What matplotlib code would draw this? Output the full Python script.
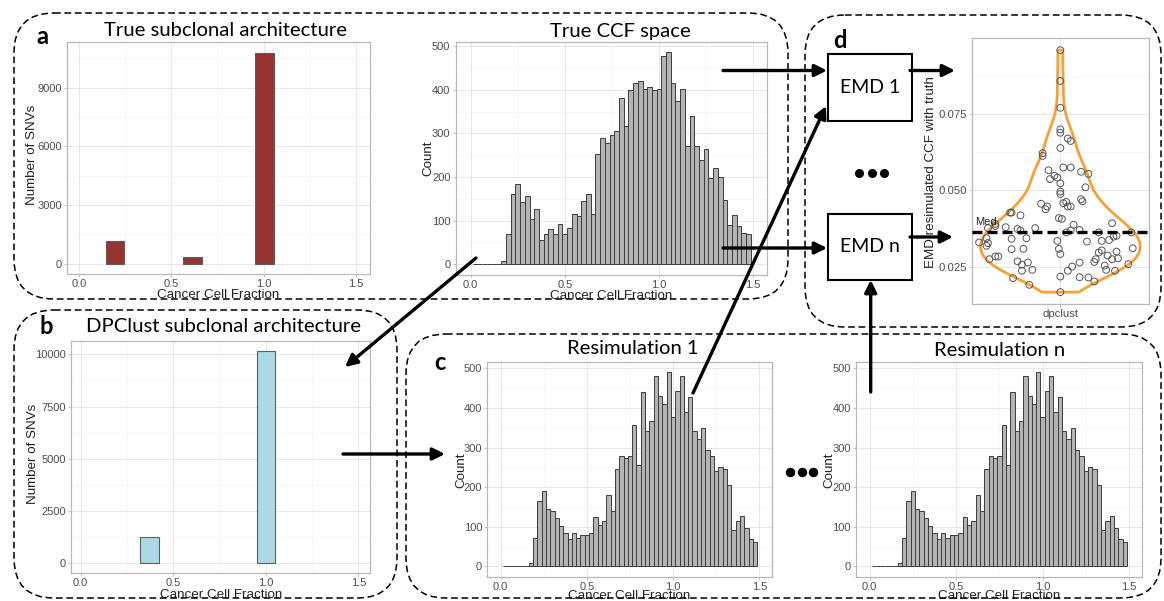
import numpy as np
import matplotlib.pyplot as plt
from matplotlib.patches import FancyBboxPatch, Rectangle

W, H = 1164, 601

# ---- data ----
# panel a: true subclonal architecture
true_ccf = [0.195, 0.615, 1.005]
true_nsnv = [1150, 370, 10800]
# panel b: DPClust solution
dp_ccf = [0.372, 1.0]
dp_nsnv = [1258, 10150]

# histograms (bin width 0.025)
bin_w = 0.025
bin_mid = np.arange(1, 60) * bin_w
true_counts = [0] * 6 + [
    8, 69, 161, 185, 143, 156, 103, 127, 55, 69, 81, 69, 93, 69, 84, 115, 110,
    146, 160, 116, 252, 290, 277, 297, 305, 380, 316, 399, 415, 421, 402, 406,
    400, 402, 477, 486, 415, 373, 402, 271, 339, 272, 238, 264, 197, 220, 199,
    147, 91, 114, 88, 72, 69]
resim_counts = [0] * 6 + [
    8, 72, 165, 190, 146, 141, 123, 101, 84, 68, 84, 73, 79, 79, 84, 126, 104,
    114, 180, 140, 247, 278, 274, 278, 357, 257, 440, 341, 367, 480, 430, 409,
    492, 377, 442, 480, 391, 429, 341, 321, 350, 293, 278, 240, 250, 245, 205,
    92, 114, 127, 96, 70, 62]

# panel d: EMD of each resimulation vs truth, with its jitter offset
emd = [0.0960, 0.0859, 0.0771, 0.0700, 0.0689, 0.0670, 0.0662, 0.0639, 0.0622,
       0.0613, 0.0566, 0.0548, 0.0542, 0.0575, 0.0575, 0.0561, 0.0554, 0.0537,
       0.0523, 0.0510, 0.0496, 0.0488, 0.0456, 0.0447, 0.0438, 0.0458, 0.0462,
       0.0447, 0.0447, 0.0471, 0.0464, 0.0427, 0.0427, 0.0418, 0.0409, 0.0406,
       0.0392, 0.0390, 0.0383, 0.0376, 0.0379, 0.0373, 0.0368, 0.0376, 0.0387,
       0.0370, 0.0368, 0.0362, 0.0362, 0.0362, 0.0348, 0.0351, 0.0329, 0.0343,
       0.0327, 0.0318, 0.0341, 0.0343, 0.0334, 0.0332, 0.0334, 0.0337, 0.0307,
       0.0308, 0.0308, 0.0310, 0.0303, 0.0296, 0.0291, 0.0286, 0.0299, 0.0274,
       0.0283, 0.0283, 0.0274, 0.0265, 0.0274, 0.0277, 0.0253, 0.0267, 0.0256,
       0.0263, 0.0236, 0.0239, 0.0236, 0.0250, 0.0263, 0.0239, 0.0236, 0.0258,
       0.0212, 0.0217, 0.0215, 0.0214, 0.0201, 0.0190, 0.0166]
jit = [0.00, 0.00, 0.00, 0.00, 0.00, 0.05, 0.07, 0.00, -0.12, -0.12, -0.08,
       -0.04, -0.02, 0.02, 0.07, 0.14, 0.19, -0.07,
       0.00, 0.17, 0.00, 0.00, -0.13, -0.09, -0.10, 0.02, 0.04, 0.05, 0.07,
       0.14, 0.15, -0.34, -0.33, -0.27, -0.01, 0.01, 0.35, -0.44, -0.44, -0.49,
       -0.37, -0.29, -0.27, -0.17, 0.09, 0.13, 0.07, 0.04, 0.26, 0.48, 0.36,
       0.38, -0.55, -0.50, -0.49, -0.50, -0.33, -0.23, -0.02, 0.18, 0.28, 0.33,
       -0.33, -0.25, -0.01, 0.49, 0.28, 0.26, 0.00, 0.32, 0.38, -0.48, -0.44,
       -0.42, 0.24, 0.23, 0.35, 0.39, 0.30, -0.29, -0.26, -0.22, -0.26, -0.19,
       0.05, 0.08, 0.13, 0.31, 0.37, 0.46, -0.32, 0.00, 0.13, 0.19, 0.23,
       -0.21, 0.00]

plt.rcParams['font.family'] = ['Liberation Sans', 'DejaVu Sans']
TITLE_FONT = 'Lato'

fig = plt.figure(figsize=(W / 100, H / 100), dpi=100)


def px_axes(l, t, r, b):
    return fig.add_axes([l / W, 1 - b / H, (r - l) / W, (b - t) / H])


def ggstyle(ax, xlim, ylim, xt, yt, xminor, yminor, xfmt='%.1f'):
    ax.set_xlim(xlim)
    ax.set_ylim(ylim)
    ax.set_xticks(xt)
    ax.set_xticklabels([xfmt % v for v in xt])
    ax.set_yticks(yt)
    ax.set_yticklabels([str(v) for v in yt])
    ax.set_xticks(xminor, minor=True)
    ax.set_yticks(yminor, minor=True)
    ax.grid(which='major', color='#E3E3E3', lw=0.6)
    ax.grid(which='minor', color='#F2F2F2', lw=0.4)
    ax.set_axisbelow(True)
    for sp in ax.spines.values():
        sp.set_color('#B8B8B8')
        sp.set_linewidth(0.9)
    ax.tick_params(which='major', length=2.5, width=0.6, color='#B8B8B8',
                   labelsize=8, labelcolor='#4D4D4D', pad=1.2)
    ax.tick_params(which='minor', length=0)


def labels(ax, xl, yl, xpos, ypos, size=9.6):
    ax.set_xlabel(xl, fontsize=size, color='#222222')
    ax.set_ylabel(yl, fontsize=size, color='#222222')
    ax.xaxis.set_label_coords(*xpos)
    ax.yaxis.set_label_coords(*ypos)
    ax.xaxis.label.set_va('center')
    ax.yaxis.label.set_va('center')


ccf_ticks = [0.0, 0.5, 1.0, 1.5]
ccf_minor = [0.25, 0.75, 1.25]

# panel a
ax_a = px_axes(67, 42, 370, 274)
ax_a.bar(true_ccf, true_nsnv, width=0.1, color='#973431', edgecolor='#5E5E5E', lw=0.8)
ggstyle(ax_a, (-0.065, 1.576), (-520, 11340), ccf_ticks, [0, 3000, 6000, 9000],
        ccf_minor, [1500, 4500, 7500, 10500])
labels(ax_a, 'Cancer Cell Fraction', 'Number of SNVs', (0.498, -0.092), (-0.116, 0.515))

# true CCF histogram
ax_t = px_axes(455.6, 41.7, 766.7, 275)
ax_t.bar(bin_mid, true_counts, width=bin_w, color='#B4B4B4', edgecolor='#3C3C3C', lw=0.7)
ggstyle(ax_t, (-0.08, 1.572), (-24.5, 510), ccf_ticks, list(range(0, 501, 100)),
        ccf_minor, list(range(50, 501, 100)))
labels(ax_t, 'Cancer Cell Fraction', 'Count', (0.4995, -0.09), (-0.089, 0.5))

# panel b
ax_b = px_axes(71, 341, 370, 573)
ax_b.bar(dp_ccf, dp_nsnv, width=0.1, color='#ADD8E6', edgecolor='#5E5E5E', lw=0.8)
ggstyle(ax_b, (-0.052, 1.563), (-470, 10640), ccf_ticks, [0, 2500, 5000, 7500, 10000],
        ccf_minor, [1250, 3750, 6250, 8750])
labels(ax_b, 'Cancer Cell Fraction', 'Number of SNVs', (0.502, -0.094), (-0.127, 0.513))

# resimulations
for l, r, ylx in [(487.3, 771.7, -0.09), (856, 1141.7, -0.0935)]:
    ax_r = px_axes(l, 361.7, r, 576.7)
    ax_r.bar(bin_mid, resim_counts, width=bin_w, color='#B4B4B4', edgecolor='#3C3C3C', lw=0.7)
    ggstyle(ax_r, (-0.078, 1.572), (-26, 517), ccf_ticks, list(range(0, 501, 100)),
            ccf_minor, list(range(50, 501, 100)))
    labels(ax_r, 'Cancer Cell Fraction', 'Count', (0.5, -0.088), (ylx, 0.496))

# panel d violin
ax_d = px_axes(971.7, 38.3, 1149, 304)
vals = np.array(emd)
sd = vals.std(ddof=1)
iqr = np.subtract(*np.percentile(vals, [75, 25]))
bw = 0.9 * min(sd, iqr / 1.34) * len(vals) ** -0.2 / sd
vp = ax_d.violinplot([vals], positions=[1], widths=1.08, showextrema=False, bw_method=bw)
for body in vp['bodies']:
    body.set_facecolor('none')
    body.set_edgecolor('#F4A236')
    body.set_linewidth(2)
    body.set_alpha(1)
ax_d.scatter(1 + np.array(jit), vals, s=24, facecolors='none', edgecolors='#555555',
             linewidths=0.7, zorder=3)
med = np.median(vals)
ax_d.axhline(med, color='k', lw=2.4, ls=(0, (3, 1.5)), zorder=4)
ax_d.text(0.422, med + 0.0033, 'Med.', fontsize=8, color='#222222', va='center', ha='left')
ggstyle(ax_d, (0.4, 1.6), (0.0127, 0.0999), [1], [0.025, 0.050, 0.075], [],
        [0.0375, 0.0625, 0.0875])
ax_d.set_xticklabels(['dpclust'])
ax_d.set_yticklabels(['0.025', '0.050', '0.075'])
ax_d.tick_params(labelsize=8.2)
ax_d.set_ylabel('EMD resimulated CCF with truth', fontsize=9.6, color='#222222')
ax_d.yaxis.set_label_coords(-0.232, 0.497)
ax_d.yaxis.label.set_va('center')

# ---- overlay: boxes, arrows, titles, letters ----
ov = fig.add_axes([0, 0, 1, 1], zorder=10)
ov.set_xlim(0, W)
ov.set_ylim(H, 0)
ov.axis('off')

for (x0, y0, x1, y1) in [(14, 13, 788, 299), (14, 310, 397, 598),
                         (406, 334, 1161, 598), (805, 15, 1161, 327)]:
    ov.add_patch(FancyBboxPatch((x0, y0), x1 - x0, y1 - y0,
                                boxstyle='round,pad=0,rounding_size=40',
                                fill=False, ec='k', lw=1.1, ls=(0, (4.4, 2.4))))

for (y0, y1, txt) in [(54.3, 120.7, 'EMD 1'), (214, 280, 'EMD n')]:
    ov.add_patch(Rectangle((828.3, y0), 83.4, y1 - y0, fill=False, ec='k', lw=1.5))
    ov.text(870, (y0 + y1) / 2, txt, fontsize=14, family=TITLE_FONT,
            ha='center', va='center')

arrows = [((723, 70.5), (827, 70.5)), ((723, 248), (827, 248)),
          ((693, 393), (826, 106)), ((910, 70.5), (955, 70.5)),
          ((910, 237), (953, 237)), ((870.7, 392), (870.7, 280)),
          ((476, 258), (345, 367)), ((343, 454), (445, 454))]
for s, e in arrows:
    ov.annotate('', xy=e, xytext=s,
                arrowprops=dict(arrowstyle='-|>', color='k', lw=2.4,
                                mutation_scale=18, shrinkA=0, shrinkB=0))

ov.plot([859.3, 871.7, 884], [173.3] * 3, 'o', color='k', ms=5.5)
ov.plot([790, 801.7, 813.3], [472] * 3, 'o', color='k', ms=5.8)

titles = [(226, 31, 'True subclonal architecture'), (620, 31, 'True CCF space'),
          (224, 326, 'DPClust subclonal architecture'),
          (633, 348, 'Resimulation 1'), (1000, 350, 'Resimulation n')]
for x, y, t in titles:
    ov.text(x, y, t, fontsize=14.6, family=TITLE_FONT, ha='center', va='center')

for x, y, t in [(42, 37, 'a'), (46, 327, 'b'), (440, 363, 'c'), (840, 40, 'd')]:
    ov.text(x, y, t, fontsize=17, family=TITLE_FONT, weight='bold',
            ha='center', va='center')

fig.savefig('out.png', dpi=100)
